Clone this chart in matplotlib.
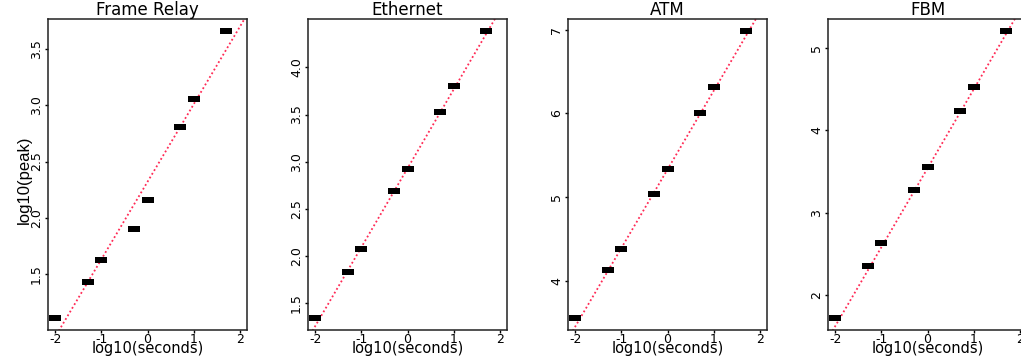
import matplotlib
matplotlib.use("Agg")
import matplotlib.pyplot as plt
import numpy as np

plt.rcParams["font.family"] = ["DejaVu Sans"]

# time scales, log10(seconds)
log_seconds = [-2.0, -1.301, -1.0, -0.301, 0.0, 0.699, 1.0, 1.699]

titles = ["Frame Relay", "Ethernet", "ATM", "FBM"]

frame_relay_peak = [1.11, 1.43, 1.63, 1.90, 2.16, 2.81, 3.05, 3.66]
ethernet_peak = [1.34, 1.83, 2.08, 2.69, 2.92, 3.53, 3.80, 4.39]
atm_peak = [3.55, 4.13, 4.38, 5.04, 5.33, 6.01, 6.31, 6.99]
fbm_peak = [1.72, 2.36, 2.63, 3.28, 3.56, 4.24, 4.53, 5.21]

# fitted lines: (intercept, slope)
fit_intercepts = [2.32, 2.93, 5.33, 3.54]
fit_slopes = [0.685, 0.834, 0.937, 0.955]

y_ticks = [
    [1.5, 2.0, 2.5, 3.0, 3.5],
    [1.5, 2.0, 2.5, 3.0, 3.5, 4.0],
    [4, 5, 6, 7],
    [2, 3, 4, 5],
]

all_peaks = [frame_relay_peak, ethernet_peak, atm_peak, fbm_peak]

W, H = 1021, 356
fig = plt.figure(figsize=(W / 100, H / 100), dpi=100)

rect = [(-1, -0.5), (1, -0.5), (1, 0.5), (-1, 0.5), (-1, -0.5)]

for i, (title, peaks) in enumerate(zip(titles, all_peaks)):
    left = 48 + 260 * i
    ax = fig.add_axes([left / W, 26 / H, 199 / W, 311 / H])

    lo, hi = min(peaks), max(peaks)
    pad = (hi - lo) * 0.04
    ax.set_ylim(lo - pad, hi + pad)
    ax.set_xlim(-2.16, 2.16)

    xs = np.array([-2.6, 2.6])
    ax.plot(xs, fit_intercepts[i] + fit_slopes[i] * xs,
            color="#ff2a55", linestyle=(0, (1, 1.4)), linewidth=1.3, zorder=2)
    ax.plot(log_seconds, peaks, linestyle="none", marker=rect,
            markersize=9, color="black", markeredgewidth=0, zorder=3)

    ax.set_xticks([-2, -1, 0, 1, 2])
    ax.set_xticklabels(["-2", "-1", "0", "1", "2"])
    ax.set_yticks(y_ticks[i])
    ax.set_yticklabels([str(t) for t in y_ticks[i]], rotation=90, va="center")
    ax.tick_params(axis="both", direction="out", length=2, width=1,
                   labelsize=9, pad=0)
    ax.tick_params(axis="y", pad=1.5)

    for s in ax.spines.values():
        s.set_linewidth(1.1)
        s.set_color("#222222")

    ax.set_title(title, fontsize=12, pad=1.5)
    ax.set_xlabel("log10(seconds)", fontsize=10.5, va="bottom")
    ax.xaxis.set_label_coords(0.5, -25.5 / 311)

fig.text(24 / W, 1 - 180 / H, "log10(peak)", rotation=90, ha="center",
         va="center", fontsize=12, family="Liberation Sans")

fig.savefig("out.png", dpi=100)
